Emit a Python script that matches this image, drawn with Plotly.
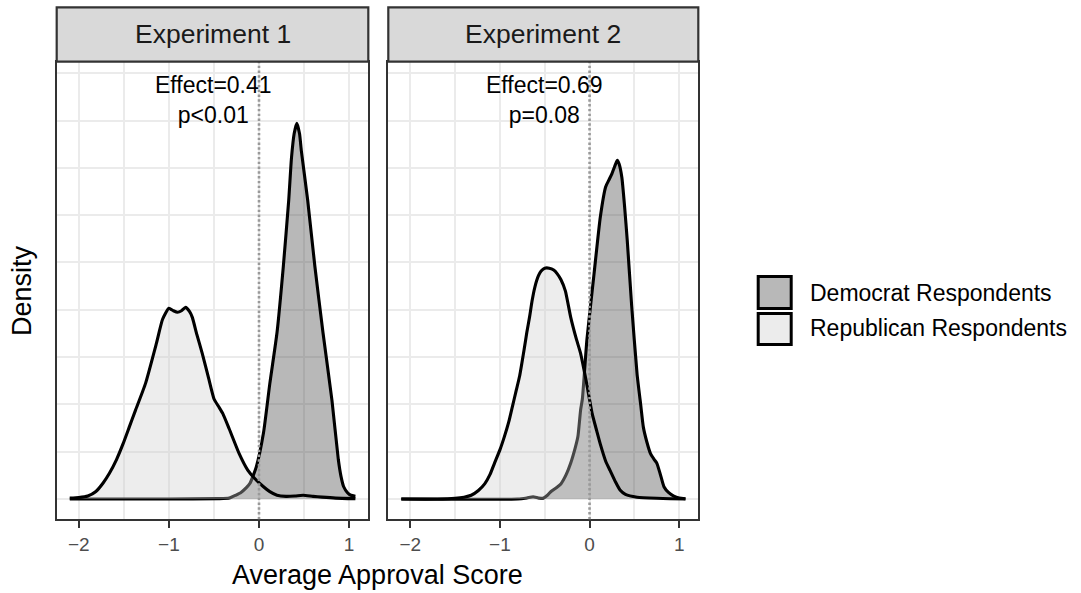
import plotly.graph_objects as go

# ---------------- data ----------------
rep1_x = [-2.10, -2.00, -1.90, -1.81, -1.73, -1.66, -1.58, -1.51, -1.44, -1.37, -1.26, -1.14, -1.07, -1.00,
          -0.95, -0.905, -0.86, -0.815, -0.77, -0.74, -0.69, -0.63, -0.56, -0.50, -0.45, -0.40, -0.33,
          -0.22, -0.125, -0.05, 0.05, 0.12, 0.20, 0.30, 0.40, 0.49, 0.60, 0.70, 0.85, 1.07]
rep1_y = [0.005, 0.008, 0.016, 0.04, 0.085, 0.136, 0.21, 0.29, 0.38, 0.47, 0.61, 0.82, 0.95, 1.008,
          0.995, 0.987, 0.995, 1.013, 0.99, 0.96, 0.87, 0.77, 0.64, 0.53, 0.49, 0.45, 0.37,
          0.24, 0.153, 0.11, 0.065, 0.039, 0.02, 0.014, 0.016, 0.02, 0.014, 0.01, 0.005, 0.002]

dem1_x = [-2.10, -1.00, -0.45, -0.33, -0.26, -0.20, -0.14, -0.10, -0.03, 0.05, 0.12, 0.20, 0.27, 0.33,
          0.36, 0.39, 0.42, 0.45, 0.47, 0.54, 0.62, 0.71, 0.81, 0.88, 0.91, 0.94, 0.98, 1.02, 1.07]
dem1_y = [0.0, 0.0, 0.002, 0.005, 0.02, 0.035, 0.06, 0.083, 0.17, 0.35, 0.61, 0.88, 1.23, 1.58,
          1.80, 1.93, 1.985, 1.93, 1.84, 1.58, 1.23, 0.88, 0.52, 0.21, 0.12, 0.065, 0.035, 0.02, 0.015]

rep2_x = [-2.10, -1.70, -1.50, -1.40, -1.32, -1.24, -1.17, -1.11, -1.06, -1.00, -0.95, -0.90, -0.86,
          -0.82, -0.78, -0.73, -0.70, -0.67, -0.64, -0.61, -0.57, -0.54, -0.50, -0.45, -0.40, -0.36,
          -0.32, -0.27, -0.21, -0.15, -0.10, -0.04, 0.03, 0.08, 0.12, 0.18, 0.23, 0.29, 0.34, 0.40,
          0.53, 0.75, 1.07]
rep2_y = [0.0, 0.0, 0.004, 0.01, 0.02, 0.045, 0.08, 0.13, 0.19, 0.26, 0.33, 0.41, 0.49,
          0.57, 0.65, 0.79, 0.88, 0.96, 1.05, 1.12, 1.18, 1.205, 1.22, 1.22, 1.21, 1.19,
          1.16, 1.10, 0.96, 0.85, 0.77, 0.63, 0.45, 0.36, 0.29, 0.20, 0.15, 0.09, 0.048, 0.025,
          0.01, 0.004, 0.0]

dem2_x = [-2.10, -0.80, -0.70, -0.63, -0.57, -0.52, -0.47, -0.43, -0.37, -0.32, -0.26, -0.21, -0.16,
          -0.13, -0.10, -0.08, -0.03, 0.05, 0.12, 0.18, 0.22, 0.25, 0.29, 0.31, 0.33, 0.36, 0.39,
          0.42, 0.47, 0.53, 0.57, 0.60, 0.64, 0.68, 0.72, 0.75, 0.79, 0.83, 0.88, 0.94, 1.00, 1.07]
dem2_y = [0.0, 0.0, 0.006, 0.012, 0.006, 0.004, 0.02, 0.04, 0.06, 0.08, 0.13, 0.19, 0.27,
          0.33, 0.47, 0.53, 0.84, 1.19, 1.49, 1.65, 1.69, 1.72, 1.77, 1.79, 1.77, 1.70, 1.55,
          1.37, 1.02, 0.66, 0.50, 0.38, 0.30, 0.24, 0.21, 0.19, 0.13, 0.065, 0.035, 0.016, 0.006, 0.002]

panels = ["Experiment 1", "Experiment 2"]
effects = ["Effect=0.41<br>p<0.01", "Effect=0.69<br>p=0.08"]
groups = ["Democrat Respondents", "Republican Respondents"]
tick_vals = [-2, -1, 0, 1]
tick_text = ["\u22122", "\u22121", "0", "1"]

# ---------------- styling ----------------
W, H = 1081, 593
FONT = "Liberation Sans, Arial, sans-serif"
dem_fill = "rgba(51,51,51,0.35)"
rep_fill = "rgba(204,204,204,0.35)"
key_fill = {"Democrat Respondents": "#b8b8b8", "Republican Respondents": "#ececec"}


def px(x):
    return x / W


def py(y):
    return 1 - y / H


fig = go.Figure()

series = [
    (dem1_x, dem1_y, dem_fill, "x", "y"),
    (rep1_x, rep1_y, rep_fill, "x", "y"),
    (dem2_x, dem2_y, dem_fill, "x2", "y2"),
    (rep2_x, rep2_y, rep_fill, "x2", "y2"),
]
for xs, ys, fc, xa, ya in series:
    fig.add_trace(go.Scatter(
        x=xs, y=ys, mode="lines", fill="tozeroy", fillcolor=fc,
        line=dict(color="black", width=3.1, shape="spline", smoothing=0.5),
        xaxis=xa, yaxis=ya, showlegend=False, hoverinfo="skip"))

xrange = [-2.245, 1.213]
yrange = [-0.107, 2.311]
p1 = (56.7, 368.3)
p2 = (388.3, 698.3)
ptop, pbot = 61.7, 519.3
ydom = [py(pbot), py(ptop)]

xcommon = dict(range=xrange, tickvals=tick_vals, ticktext=tick_text, showgrid=True,
               gridcolor="#ebebeb", gridwidth=2.4, zeroline=False,
               minor=dict(dtick=0.5, tick0=0, showgrid=True, gridcolor="#ebebeb", gridwidth=1.6),
               ticks="outside", ticklen=7, tickwidth=2.2, tickcolor="#333333",
               tickfont=dict(family=FONT, size=19, color="#4d4d4d"),
               showline=True, mirror=True, linecolor="#333333", linewidth=2.2)
ycommon = dict(range=yrange, domain=ydom, showticklabels=False, ticks="",
               tickvals=[0, 0.5, 1.0, 1.5, 2.0], showgrid=True, gridcolor="#ebebeb", gridwidth=2.4,
               minor=dict(tickvals=[0.25, 0.75, 1.25, 1.75, 2.25], showgrid=True,
                          gridcolor="#ebebeb", gridwidth=1.8),
               zeroline=False, showline=True, mirror=True, linecolor="#333333", linewidth=2.2)

fig.update_layout(
    width=W, height=H, autosize=False,
    margin=dict(l=0, r=0, t=0, b=0),
    paper_bgcolor="white", plot_bgcolor="white",
    font=dict(family=FONT),
    xaxis=dict(domain=[px(p1[0]), px(p1[1])], anchor="y", **xcommon),
    xaxis2=dict(domain=[px(p2[0]), px(p2[1])], anchor="y2", **xcommon),
    yaxis=dict(anchor="x", **ycommon),
    yaxis2=dict(anchor="x2", **ycommon),
)

shapes = []
annotations = []
# dotted vertical line at 0
for xa, ya in [("x", "y"), ("x2", "y2")]:
    shapes.append(dict(type="line", xref=xa, yref=ya + " domain", x0=0, x1=0, y0=0, y1=1,
                       line=dict(color="#999999", width=2.6, dash="2.4px,2.4px"), layer="above"))
# strips
for (l, r), label in zip([p1, p2], panels):
    shapes.append(dict(type="rect", xref="paper", yref="paper", x0=px(l), x1=px(r),
                       y0=py(61.7), y1=py(7.3), fillcolor="#d9d9d9",
                       line=dict(color="#333333", width=2.2), layer="above"))
    annotations.append(dict(xref="paper", yref="paper", x=px((l + r) / 2), y=py(34.5),
                            text=label, showarrow=False, xanchor="center", yanchor="middle",
                            font=dict(family=FONT, size=26.5, color="#1a1a1a")))
# effect labels
for xa, ya, txt in [("x", "y", effects[0]), ("x2", "y2", effects[1])]:
    annotations.append(dict(xref=xa, yref=ya, x=-0.5, y=2.11, text=txt, showarrow=False,
                            xanchor="center", yanchor="middle", align="center",
                            font=dict(family=FONT, size=23, color="black")))
# axis titles
annotations.append(dict(xref="paper", yref="paper", x=px((p1[0] + p2[1]) / 2), y=py(574.5),
                        text="Average Approval Score", showarrow=False, xanchor="center",
                        yanchor="middle", font=dict(family=FONT, size=27, color="black")))
annotations.append(dict(xref="paper", yref="paper", x=px(21.5), y=py((ptop + pbot) / 2),
                        text="Density", showarrow=False, textangle=-90, xanchor="center",
                        yanchor="middle", font=dict(family=FONT, size=27, color="black")))
# legend
key_boxes = [(276.5, 308.5, 293), (313.5, 344.5, 328)]
for g, (y0, y1, yc) in zip(groups, key_boxes):
    shapes.append(dict(type="rect", xref="paper", yref="paper", x0=px(758.2), x1=px(791.2),
                       y0=py(y1), y1=py(y0), fillcolor=key_fill[g],
                       line=dict(color="black", width=3)))
    annotations.append(dict(xref="paper", yref="paper", x=px(808), y=py(yc), text=g,
                            showarrow=False, xanchor="left", yanchor="middle",
                            font=dict(family=FONT, size=23, color="black")))

fig.update_layout(shapes=shapes, annotations=annotations)
fig.write_html("out.html")
